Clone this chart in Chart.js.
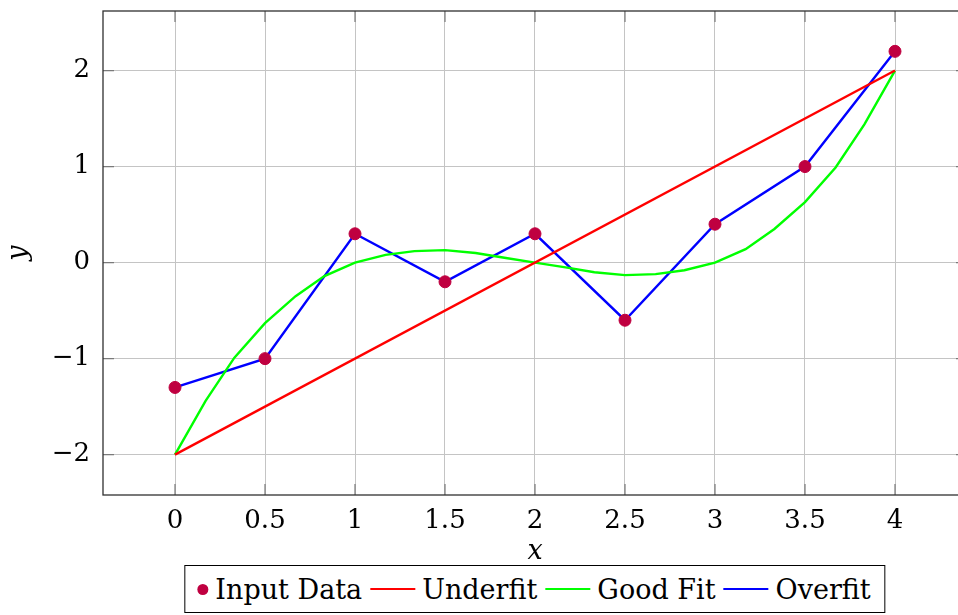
<!DOCTYPE html>
<html>
<head>
<meta charset="utf-8">
<script src="https://cdn.jsdelivr.net/npm/chart.js@4.4.1/dist/chart.umd.min.js"></script>
<style>
  html, body { margin: 0; padding: 0; background: #fff; overflow: hidden; }
  #wrap { position: relative; width: 1070px; height: 615px; }
  #legend {
    position: absolute; left: 535px; top: 565px; transform: translateX(-50%);
    height: 46px; border: 1px solid #000; background: #fff;
    display: flex; align-items: center; padding: 0 14px 0 12px;
    font-family: 'DejaVu Serif'; font-size: 27px; color: #000; white-space: nowrap;
  }
  #legend .item { display: flex; align-items: center; }
  #legend .dot { width: 11px; height: 11px; border-radius: 50%; margin-right: 7px; }
  #legend .line { width: 45px; height: 2px; margin: 0 7px 0 8px; }
</style>
</head>
<body>
<div id="wrap">
  <canvas id="chart" width="1070" height="615"></canvas>
  <div id="legend"></div>
</div>
<script>
// input samples
const dataX = [0, 0.5, 1, 1.5, 2, 2.5, 3, 3.5, 4];
const dataY = [-1.3, -1, 0.3, -0.2, 0.3, -0.6, 0.4, 1, 2.2];

// underfit (straight line)
const underX = [0, 4];
const underY = [-2, 2];

// good fit curve, read every 1/6
const goodX = [0, 0.17, 0.33, 0.5, 0.67, 0.83, 1, 1.17, 1.33, 1.5, 1.67, 1.83, 2,
               2.17, 2.33, 2.5, 2.67, 2.83, 3, 3.17, 3.33, 3.5, 3.67, 3.83, 4];
const goodY = [-2, -1.44, -0.99, -0.63, -0.35, -0.14, 0, 0.08, 0.12, 0.13, 0.1, 0.05, 0,
               -0.05, -0.1, -0.13, -0.12, -0.08, 0, 0.14, 0.35, 0.63, 0.99, 1.44, 2];

// overfit goes through every input point
const overX = [0, 0.5, 1, 1.5, 2, 2.5, 3, 3.5, 4];
const overY = [-1.3, -1, 0.3, -0.2, 0.3, -0.6, 0.4, 1, 2.2];

const xTicks = [0, 0.5, 1, 1.5, 2, 2.5, 3, 3.5, 4];
const yTicks = [-2, -1, 0, 1, 2];

const serif = "'DejaVu Serif'";
const pts = (xs, ys) => xs.map((x, i) => ({ x: x, y: ys[i] }));
const fmt = v => (v < 0 ? '\u2212' + Math.abs(v) : String(v));

// box around the plot + small inner ticks like pgfplots
const framePlugin = {
  id: 'frame',
  beforeDatasetsDraw(chart) {
    const { ctx, chartArea: a, scales } = chart;
    const t = 11;
    ctx.save();
    ctx.strokeStyle = '#7a7a7a';
    ctx.lineWidth = 1.2;
    ctx.beginPath();
    xTicks.forEach(v => {
      const px = scales.x.getPixelForValue(v);
      ctx.moveTo(px, a.top); ctx.lineTo(px, a.top + t);
      ctx.moveTo(px, a.bottom); ctx.lineTo(px, a.bottom - t);
    });
    yTicks.forEach(v => {
      const py = scales.y.getPixelForValue(v);
      ctx.moveTo(a.left, py); ctx.lineTo(a.left + t, py);
      ctx.moveTo(a.right, py); ctx.lineTo(a.right - t, py);
    });
    ctx.stroke();
    ctx.strokeStyle = '#303030';
    ctx.lineWidth = 1.3;
    ctx.strokeRect(a.left, a.top, a.right - a.left, a.bottom - a.top);
    ctx.restore();
  }
};

const chart = new Chart(document.getElementById('chart').getContext('2d'), {
  type: 'scatter',
  data: {
    datasets: [
      {
        label: 'Input Data',
        data: pts(dataX, dataY),
        backgroundColor: '#BF0040',
        borderColor: '#BF0040',
        pointRadius: 6,
        showLine: false
      },
      {
        label: 'Underfit',
        data: pts(underX, underY),
        borderColor: '#FF0000',
        borderWidth: 2.4,
        pointRadius: 0,
        showLine: true
      },
      {
        label: 'Good Fit',
        data: pts(goodX, goodY),
        borderColor: '#00FF00',
        borderWidth: 2.4,
        pointRadius: 0,
        showLine: true
      },
      {
        label: 'Overfit',
        data: pts(overX, overY),
        borderColor: '#0000FF',
        borderWidth: 2.4,
        pointRadius: 0,
        showLine: true
      }
    ]
  },
  options: {
    responsive: false,
    animation: false,
    layout: { padding: { top: 11, right: 103, bottom: 50, left: 0 } },
    plugins: {
      legend: { display: false },
      tooltip: { enabled: false }
    },
    scales: {
      x: {
        type: 'linear',
        min: -0.4,
        max: 4.4,
        afterBuildTicks: s => { s.ticks = xTicks.map(v => ({ value: v })); },
        afterFit: s => { s.height = 70; s.paddingLeft = 0; s.paddingRight = 0; },
        ticks: { callback: fmt, color: '#000', font: { family: serif, size: 26 }, padding: 11, maxRotation: 0, autoSkip: false },
        grid: { color: '#c4c4c4', lineWidth: 1, drawTicks: false },
        border: { display: false },
        title: { display: true, text: 'x', color: '#000', padding: 0, font: { family: serif, size: 27, style: 'italic', lineHeight: 1 } }
      },
      y: {
        min: -2.42,
        max: 2.62,
        afterBuildTicks: s => { s.ticks = yTicks.map(v => ({ value: v })); },
        afterFit: s => { s.width = 103; s.paddingTop = 0; s.paddingBottom = 0; },
        ticks: { callback: fmt, color: '#000', font: { family: serif, size: 26 }, padding: 13, autoSkip: false },
        grid: { color: '#c4c4c4', lineWidth: 1, drawTicks: false },
        border: { display: false },
        title: { display: true, text: 'y', color: '#000', padding: { top: 5, bottom: 0 }, font: { family: serif, size: 27, style: 'italic', lineHeight: 1 } }
      }
    }
  },
  plugins: [framePlugin]
});

// legend in html, from the datasets
const legend = document.getElementById('legend');
chart.data.datasets.forEach(ds => {
  const item = document.createElement('span');
  item.className = 'item';
  const mark = document.createElement('span');
  if (ds.showLine) {
    mark.className = 'line';
    mark.style.background = ds.borderColor;
  } else {
    mark.className = 'dot';
    mark.style.background = ds.backgroundColor;
  }
  item.appendChild(mark);
  item.appendChild(document.createTextNode(ds.label));
  legend.appendChild(item);
});
</script>
</body>
</html>
